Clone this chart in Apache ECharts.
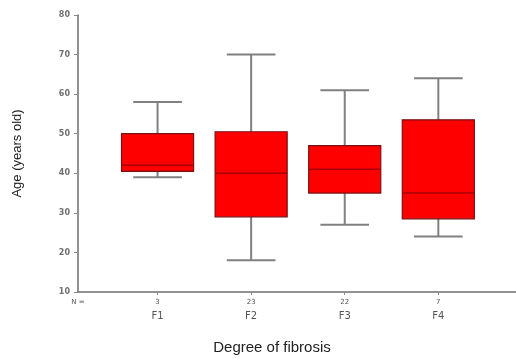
<!DOCTYPE html>
<html>
<head>
<meta charset="utf-8">
<script src="https://cdn.jsdelivr.net/npm/echarts@6/dist/echarts.min.js"></script>
<style>
  html, body { margin: 0; padding: 0; background: #fff; }
  #chart { width: 516px; height: 360px; }
</style>
</head>
<body>
<div id="chart"></div>
<script>
// fibrosis groups and their group sizes (N =)
var categories = ['F1', 'F2', 'F3', 'F4'];
var counts = [3, 23, 22, 7];

// box plot stats, ages in years
var mins    = [39, 18, 27, 24];
var q1s     = [40.5, 29, 35, 28.5];
var medians = [42, 40, 41, 35];
var q3s     = [50, 50.5, 47, 53.5];
var maxs    = [58, 70, 61, 64];

var yTicks = [10, 20, 30, 40, 50, 60, 70, 80];

var xMin = 0.15, xMax = 4.83;

var boxData = categories.map(function (c, i) {
    return [i + 1, mins[i], q1s[i], medians[i], q3s[i], maxs[i]];
});

var myChart = echarts.init(document.getElementById('chart'));

function renderBox(params, api) {
    var x = api.value(0);
    var band = api.size([1, 0])[0];
    var half = band * 0.385;
    var cap = band * 0.26;
    var pMin = api.coord([x, api.value(1)]);
    var pQ1 = api.coord([x, api.value(2)]);
    var pMed = api.coord([x, api.value(3)]);
    var pQ3 = api.coord([x, api.value(4)]);
    var pMax = api.coord([x, api.value(5)]);
    var whisker = { stroke: '#808080', lineWidth: 2 };
    return {
        type: 'group',
        children: [
            // whiskers
            { type: 'line', shape: { x1: pMax[0], y1: pMax[1], x2: pQ3[0], y2: pQ3[1] }, style: whisker },
            { type: 'line', shape: { x1: pQ1[0], y1: pQ1[1], x2: pMin[0], y2: pMin[1] }, style: whisker },
            { type: 'line', shape: { x1: pMax[0] - cap, y1: pMax[1], x2: pMax[0] + cap, y2: pMax[1] }, style: whisker },
            { type: 'line', shape: { x1: pMin[0] - cap, y1: pMin[1], x2: pMin[0] + cap, y2: pMin[1] }, style: whisker },
            // box
            {
                type: 'rect',
                shape: { x: pQ3[0] - half, y: pQ3[1], width: half * 2, height: pQ1[1] - pQ3[1] },
                style: { fill: '#ff0000', stroke: '#7a1010', lineWidth: 1.2 }
            },
            // median
            { type: 'line', shape: { x1: pMed[0] - half, y1: pMed[1], x2: pMed[0] + half, y2: pMed[1] }, style: { stroke: '#a80000', lineWidth: 1.5 } }
        ]
    };
}

var option = {
    animation: false,
    grid: { left: 78, right: 0, top: 15, bottom: 66.5 },
    xAxis: {
        type: 'value',
        min: xMin,
        max: xMax,
        name: 'Degree of fibrosis',
        nameLocation: 'middle',
        nameGap: 48,
        nameTextStyle: { fontFamily: 'Liberation Sans', fontSize: 15, color: '#222', padding: [0, 50, 0, 0] },
        axisLine: { show: true, lineStyle: { color: '#6e6e6e', width: 1.5 } },
        axisTick: { show: true, length: 3, customValues: [1, 2, 3, 4], lineStyle: { color: '#888' } },
        splitLine: { show: false },
        axisLabel: {
            customValues: [xMin, 1, 2, 3, 4],
            margin: 4,
            formatter: function (v) {
                if (v < 0.5) return '{n|N =}\n{f| }';
                var i = Math.round(v) - 1;
                return '{n|' + counts[i] + '}\n{f|' + categories[i] + '}';
            },
            rich: {
                n: { fontFamily: 'DejaVu Sans', fontSize: 7, color: '#555', lineHeight: 12 },
                f: { fontFamily: 'DejaVu Sans', fontSize: 10, color: '#555', lineHeight: 17 }
            }
        }
    },
    yAxis: {
        type: 'value',
        min: 10,
        max: 80,
        interval: 10,
        name: 'Age (years old)',
        nameLocation: 'middle',
        nameGap: 54,
        nameTextStyle: { fontFamily: 'Liberation Sans', fontSize: 13, color: '#222' },
        axisLine: { show: true, lineStyle: { color: '#6e6e6e', width: 1.5 } },
        axisTick: { show: true, length: 4, lineStyle: { color: '#888' } },
        splitLine: { show: false },
        axisLabel: {
            margin: 8,
            fontFamily: 'DejaVu Sans',
            fontSize: 8,
            fontWeight: 'bold',
            color: '#707070',
            customValues: yTicks
        }
    },
    series: [{
        type: 'custom',
        renderItem: renderBox,
        encode: { x: 0, y: [1, 2, 3, 4, 5] },
        data: boxData
    }]
};

myChart.setOption(option);
</script>
</body>
</html>
